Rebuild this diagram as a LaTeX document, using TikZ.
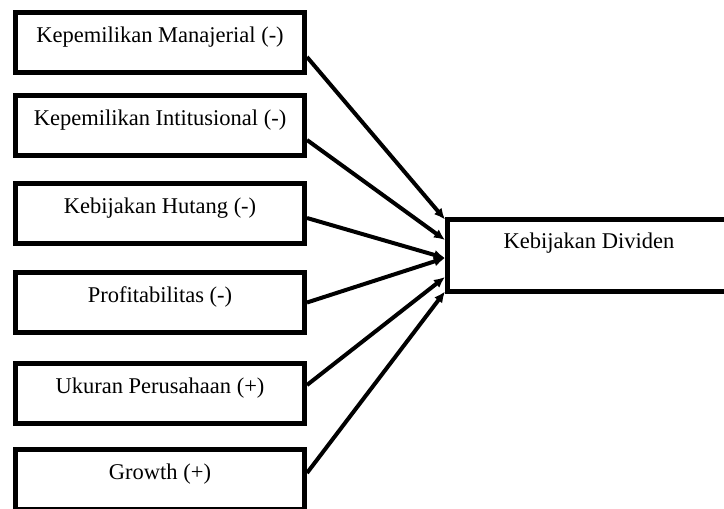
\documentclass[tikz,border=0pt]{standalone}
\usepackage{fontspec}
\setmainfont{Liberation Serif}
\usetikzlibrary{arrows.meta}
\tikzset{
  varbox/.style = {draw, line width=5pt, minimum width=289pt, minimum height=60pt,
                   inner sep=0pt, text height=16pt, text depth=16pt,
                   font=\fontsize{22.5}{27}\selectfont},
  depbox/.style = {varbox, minimum width=283pt, minimum height=72pt,
                   text height=15pt, text depth=30pt},
  infl/.style   = {-{Latex[length=11pt,width=10pt]}, line width=4pt},
}

\begin{document}
\begin{tikzpicture}[x=1pt,y=-1pt]
  \useasboundingbox (0,0) rectangle (724,509);
  \clip (0,0) rectangle (724,509);
  \node[varbox] (kman) at (160,42)    {Kepemilikan Manajerial (-)};
  \node[varbox] (kins) at (160,125.5) {Kepemilikan Intitusional (-)};
  \node[varbox] (hut)  at (160,213)   {Kebijakan Hutang (-)};
  \node[varbox] (prof) at (160,302.5) {Profitabilitas (-)};
  \node[varbox] (uk)   at (160,393.5) {Ukuran Perusahaan (+)};
  \node[varbox] (gr)   at (160,479)   {Growth (+)};
  \node[depbox] (div)  at (589,255.5) {Kebijakan Dividen};
  \draw[infl] ([yshift=-15pt]kman.east)  to ([yshift=36pt]div.west);
  \draw[infl] ([yshift=-14.5pt]kins.east) to ([yshift=15.5pt]div.west);
  \draw[infl] ([yshift=-5pt]hut.east)    to ([yshift=-2.5pt]div.west);
  \draw[infl] (prof.east)                to ([yshift=-2.5pt]div.west);
  \draw[infl] ([yshift=8.5pt]uk.east)    to ([yshift=-21.5pt]div.west);
  \draw[infl] ([yshift=6pt]gr.east)      to ([yshift=-36pt]div.west);
\end{tikzpicture}
\end{document}
